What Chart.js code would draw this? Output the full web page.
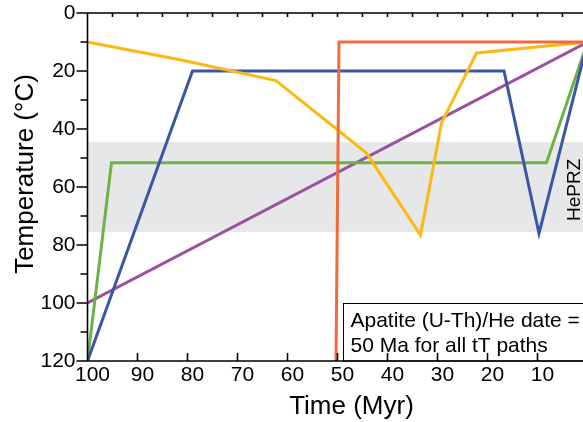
<!DOCTYPE html>
<html>
<head>
<meta charset="utf-8">
<script src="https://cdn.jsdelivr.net/npm/chart.js@4.4.1/dist/chart.umd.min.js"></script>
<style>
  html, body { margin: 0; padding: 0; background: #fff; overflow: hidden; }
  #wrap { width: 600px; height: 422px; }
</style>
</head>
<body>
<div id="wrap"><canvas id="tT" width="600" height="422"></canvas></div>
<script>
// tT paths (time in Myr, temperature in °C)
const orangeTime = [50.3, 49.7, 0];
const orangeTemp = [120, 10, 10];
const yellowTime = [100, 81, 62.3, 44.2, 33.4, 29.2, 22.2, 0];
const yellowTemp = [10, 16.3, 23.3, 48.3, 76.6, 37.9, 13.8, 10];
const blueTime = [100, 79, 16.7, 9.7, 0];
const blueTemp = [120, 20, 20, 76, 10];
const greenTime = [100, 95.2, 8.2, 0];
const greenTemp = [120, 51.6, 51.6, 10];
const purpleTime = [100, 0];
const purpleTemp = [100, 10];

// partial retention zone (°C)
const hePrz = [44.5, 75.5];

// axes
const xTicks = [100, 90, 80, 70, 60, 50, 40, 30, 20, 10, 0];
const xTopTicks = [100, 95, 90, 85, 80, 75, 70, 65, 60, 55, 50, 45, 40, 35, 30, 25, 20, 15, 10, 5, 0];
const yTicks = [0, 10, 20, 30, 40, 50, 60, 70, 80, 90, 100, 110, 120];

const boxLines = ['Apatite (U-Th)/He date =', '50 Ma for all tT paths'];

const FONT = '"Liberation Sans", Arial, sans-serif';

const pts = (t, T) => t.map((v, i) => ({x: v, y: T[i]}));

const path = (label, t, T, color) => ({
    label, data: pts(t, T), borderColor: color, borderWidth: 3,
    pointRadius: 0, tension: 0, fill: false, borderJoinStyle: 'miter'
});

const frame = {
    id: 'frame',
    beforeDatasetsDraw(chart) {
        const {ctx, chartArea: a, scales: {y}} = chart;
        const top = y.getPixelForValue(hePrz[0]);
        const bot = y.getPixelForValue(hePrz[1]);
        ctx.save();
        ctx.fillStyle = '#e6e7e8';
        ctx.fillRect(a.left, top, a.right - a.left, bot - top);
        ctx.restore();
    },
    afterDatasetsDraw(chart) {
        const {ctx, chartArea: a, scales: {x, y}} = chart;
        ctx.save();

        // HePRZ label
        ctx.save();
        ctx.translate(x.getPixelForValue(3) + 7, y.getPixelForValue(61));
        ctx.rotate(-Math.PI / 2);
        ctx.font = '19px ' + FONT;
        ctx.fillStyle = '#000';
        ctx.textAlign = 'center';
        ctx.textBaseline = 'alphabetic';
        ctx.fillText('HePRZ', 0, 0);
        ctx.restore();

        // date box
        const bx = Math.round(x.getPixelForValue(49)) + 0.5;
        const by = Math.round(y.getPixelForValue(100)) + 0.5;
        ctx.fillStyle = '#fff';
        ctx.fillRect(bx, by, chart.width - bx + 10, a.bottom - by);
        ctx.strokeStyle = '#000';
        ctx.lineWidth = 1;
        ctx.strokeRect(bx, by, chart.width - bx + 10, a.bottom - by);
        ctx.font = '21px ' + FONT;
        ctx.fillStyle = '#000';
        ctx.textAlign = 'left';
        ctx.textBaseline = 'alphabetic';
        boxLines.forEach((s, i) => ctx.fillText(s, bx + 7, by + 23 + i * 25));

        // axes and ticks
        ctx.strokeStyle = '#000';
        ctx.lineWidth = 1.6;
        ctx.beginPath();
        ctx.moveTo(a.left, a.bottom);
        ctx.lineTo(a.left, a.top);
        ctx.lineTo(chart.width, a.top);
        ctx.moveTo(a.left, a.bottom);
        ctx.lineTo(chart.width, a.bottom);
        yTicks.forEach(v => {
            const py = y.getPixelForValue(v);
            const len = v % 20 === 0 ? 11 : 7;
            ctx.moveTo(a.left - len, py);
            ctx.lineTo(a.left, py);
        });
        xTicks.forEach(v => {
            const px = x.getPixelForValue(v);
            ctx.moveTo(px, a.bottom);
            ctx.lineTo(px, a.bottom - 8);
        });
        xTopTicks.forEach(v => {
            const px = x.getPixelForValue(v);
            ctx.moveTo(px, a.top);
            ctx.lineTo(px, a.top + 4);
        });
        ctx.stroke();

        // axis titles
        ctx.font = '26px ' + FONT;
        ctx.fillStyle = '#000';
        ctx.textAlign = 'center';
        ctx.fillText('Time (Myr)', (a.left + a.right) / 2 + 14, 414);
        ctx.translate(33, (a.top + a.bottom) / 2 - 13);
        ctx.rotate(-Math.PI / 2);
        ctx.fillText('Temperature (°C)', 0, 0);
        ctx.restore();
    }
};

new Chart(document.getElementById('tT'), {
    type: 'line',
    data: {
        datasets: [
            path('Orange', orangeTime, orangeTemp, '#f26a3c'),
            path('Yellow', yellowTime, yellowTemp, '#fdb913'),
            path('Blue', blueTime, blueTemp, '#3a56a5'),
            path('Green', greenTime, greenTemp, '#6ab344'),
            path('Purple', purpleTime, purpleTemp, '#9b51a0')
        ]
    },
    options: {
        responsive: false,
        animation: false,
        devicePixelRatio: 1,
        layout: {padding: {top: 13, right: 12.5, left: 0, bottom: 0}},
        plugins: {legend: {display: false}, tooltip: {enabled: false}},
        scales: {
            x: {
                type: 'linear', min: 0, max: 100, reverse: true,
                grid: {display: false, drawTicks: false},
                border: {display: false},
                afterBuildTicks: s => { s.ticks = xTicks.map(v => ({value: v})); },
                afterFit: s => { s.height = 61; s.paddingLeft = 0; s.paddingRight = 0; },
                ticks: {font: {family: FONT, size: 21}, color: '#000', padding: 2, labelOffset: 5, autoSkip: false, maxRotation: 0}
            },
            y: {
                type: 'linear', min: 0, max: 120, reverse: true,
                grid: {display: false, drawTicks: false},
                border: {display: false},
                afterBuildTicks: s => { s.ticks = yTicks.map(v => ({value: v})); },
                afterFit: s => { s.width = 87.5; s.paddingTop = 0; s.paddingBottom = 0; },
                ticks: {font: {family: FONT, size: 21}, color: '#000', padding: 12, autoSkip: false,
                    callback: v => (v % 20 === 0 ? v : '')}
            }
        }
    },
    plugins: [frame]
});
</script>
</body>
</html>
